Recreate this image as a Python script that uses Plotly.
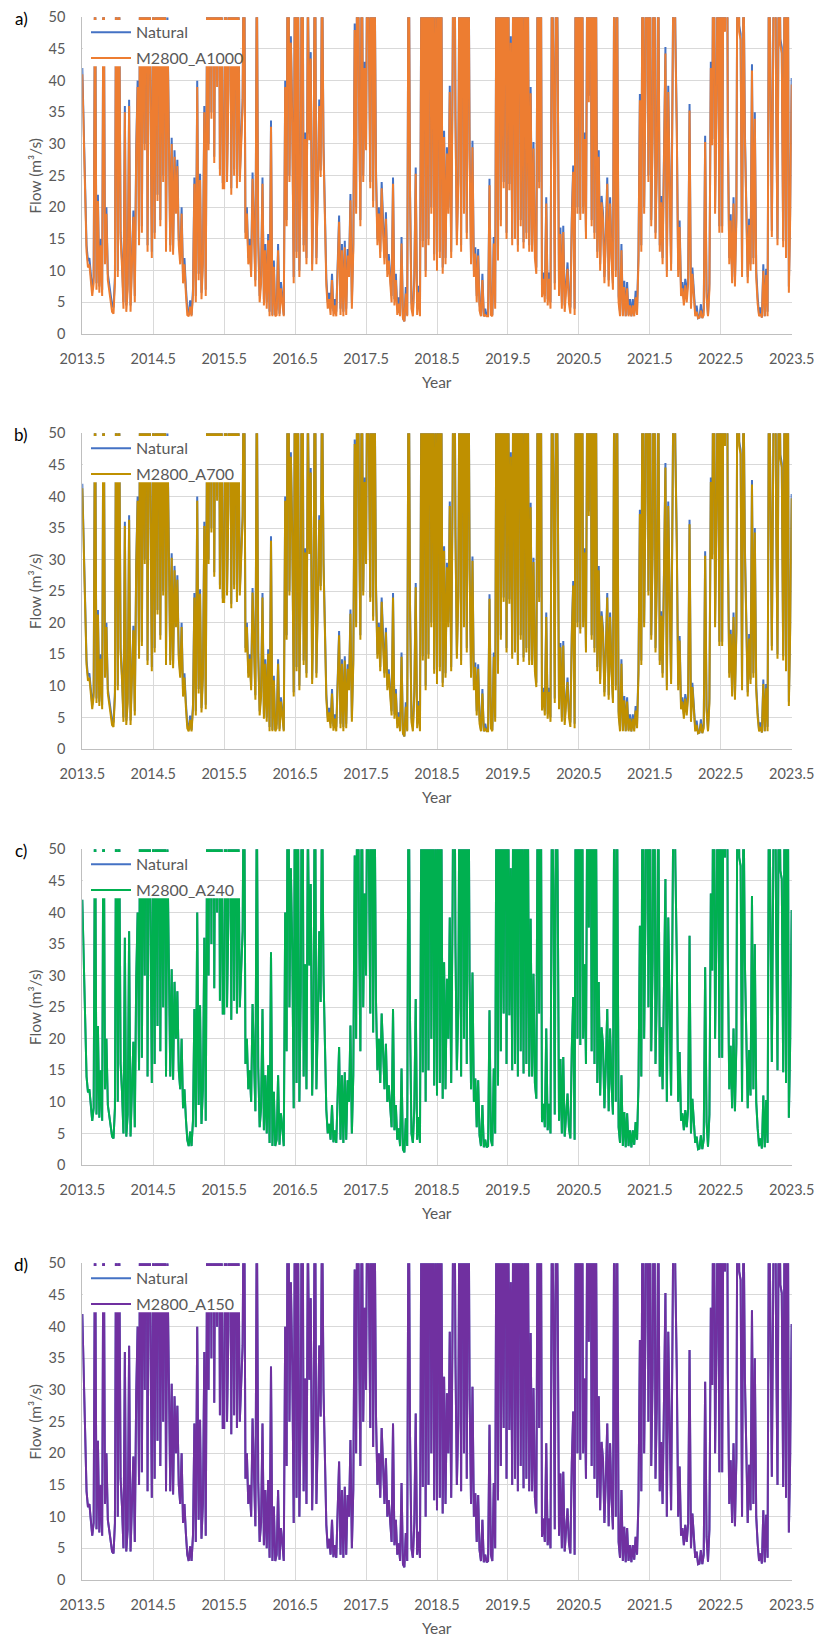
import plotly.graph_objects as go

# ---------------- data ----------------
start_year = 2013.5
step_years = 0.02
years = [round(start_year + step_years * i, 2) for i in range(501)]

natural = [
    42, 31, 20, 14, 11.5, 12, 9.5, 7, 9, 60,
    8, 22, 7.5, 15, 7, 65, 12, 20, 9.5, 7.5,
    5.5, 4.5, 4.2, 9, 70, 10, 55, 16, 11.5, 5,
    36, 4.5, 8, 37, 4.5, 12, 19.5, 6, 29.5, 40,
    15, 80, 17, 65, 30, 90, 14, 70, 40, 13,
    55, 16, 70, 22, 85, 18, 60, 25, 75, 14,
    50, 35, 14, 31, 13.5, 29, 20, 27.5, 15, 12,
    20, 9, 12, 7.4, 4, 3, 5.3, 3, 7, 24.7,
    6, 40, 9.5, 25.3, 6.5, 12, 36, 7, 55, 30,
    80, 35, 95, 28, 70, 40, 85, 26, 60, 24,
    24, 80, 25, 39.5, 90, 23, 65, 26, 75, 24,
    55, 25, 32.5, 37, 70, 16, 20, 12, 15, 10,
    25.5, 18, 8.5, 60, 15.5, 6, 9, 24.7, 5.5, 14.2,
    5, 15.8, 3.5, 33.7, 3, 11.6, 3, 4, 14.2, 3.2,
    8.2, 5.8, 3, 40, 18, 85, 25, 47, 34, 9,
    75, 13, 60, 10, 27.4, 85, 14, 31.8, 12, 55,
    31.6, 44.5, 11, 24.2, 70, 12, 23, 37, 25.8, 60,
    30, 16.3, 8.7, 5, 6.5, 4, 9.5, 3.6, 5.5, 3.5,
    10, 18.7, 4, 14.2, 3.5, 14.7, 4, 13.4, 10, 22.1,
    5, 14.2, 49, 20, 80, 38.4, 18, 65, 25, 43,
    30, 70, 44.2, 24, 90, 21, 60, 26, 15, 20,
    13, 24, 16.8, 12, 19.2, 10, 12.6, 9, 6, 24.7,
    5.5, 9.5, 4, 5.8, 3, 15.3, 2.5, 2, 7.4, 3,
    70, 22.6, 5, 3.5, 9, 26.3, 4, 7.6, 3.5, 60,
    14.7, 85, 10, 65, 15, 95, 20, 75, 12.6, 55,
    11, 80, 13, 60, 10.5, 32.1, 12, 29.5, 20, 39.2,
    13, 41.6, 85, 35, 15, 24.7, 70, 14, 90, 20,
    60, 16, 75, 29, 12, 30.5, 10, 13.7, 6, 13.4,
    4.7, 3, 9.5, 2.8, 4, 2.8, 3, 24.5, 4, 3,
    15.3, 5, 70, 12.6, 85, 18, 60, 24, 90, 16,
    70, 23.7, 47, 15, 80, 16, 65, 14, 95, 18,
    55, 14.5, 75, 16, 60, 14, 39, 14, 30.3, 13,
    10.5, 65, 24, 80, 6.8, 9.7, 6, 21.6, 5.5, 9.7,
    5, 60, 43.7, 8, 70, 46.6, 7, 16.8, 5, 17.1,
    4.5, 7.9, 11.3, 5.8, 4.2, 18.4, 26.6, 4, 85, 20,
    75, 19, 90, 20, 31.8, 16, 65, 37.6, 80, 18,
    70, 16, 60, 13, 29, 11, 21.8, 19, 9, 16,
    24.7, 8.5, 21.6, 12.9, 8, 65, 10, 55, 6, 3.5,
    14.2, 3, 8.4, 2.8, 8.2, 3, 5.5, 2.8, 5.5, 3.2,
    6.8, 4, 12.6, 37.9, 14, 75, 20, 41, 90, 25,
    70, 18, 32.4, 85, 16, 27.9, 60, 14, 21.8, 12,
    27.1, 45.3, 10, 39.2, 24.2, 11, 39.2, 70, 47.6, 33.2,
    10, 17.9, 7, 8.2, 5.5, 8.7, 6, 8.9, 36.3, 5,
    10.5, 7.1, 3.5, 4.5, 2.5, 2.6, 4.7, 2.5, 4, 31.3,
    6.8, 2.9, 8, 43, 30.8, 80, 20, 37.9, 65, 17,
    85, 17, 70, 48.7, 95, 32.6, 12, 18.9, 9, 21.6,
    8.5, 19.2, 80, 48.7, 47.4, 10, 60, 32.1, 20.5, 9,
    18.2, 11, 42.6, 12, 35, 10, 5.8, 3, 4.2, 2.6,
    11, 2.8, 10.3, 3.5, 65, 32.9, 16.3, 47.1, 85, 38.4,
    15, 70, 46.6, 45.3, 14.7, 60, 13, 90, 7.5, 20,
    40.4,
]

m2800_a1000 = [
    41, 30, 19, 13, 10.5, 11, 8.5, 6, 8, 59,
    7, 21, 6.5, 14, 6, 64, 11, 19, 8.5, 6.5,
    4.5, 3.5, 3.2, 8, 69, 9, 54, 15, 10.5, 4,
    35, 3.5, 7, 36, 3.5, 11, 18.5, 5, 28.5, 39,
    14, 79, 16, 64, 29, 89, 13, 69, 39, 12,
    54, 15, 69, 21, 84, 17, 59, 24, 74, 13,
    49, 34, 13, 30, 12.5, 28, 19, 26.5, 14, 11,
    19, 8, 11, 6.4, 3, 2.8, 4.3, 2.8, 6, 23.7,
    5, 39, 8.5, 24.3, 5.5, 11, 35, 6, 54, 29,
    79, 34, 94, 27, 69, 39, 84, 25, 59, 23,
    23, 79, 24, 38.5, 89, 22, 64, 25, 74, 23,
    54, 24, 31.5, 36, 69, 15, 19, 11, 14, 9,
    24.5, 17, 7.5, 59, 14.5, 5, 8, 23.7, 4.5, 13.2,
    4, 14.8, 2.8, 32.7, 2.8, 10.6, 2.8, 3, 13.2, 2.8,
    7.2, 4.8, 2.8, 39, 17, 84, 24, 46, 33, 8,
    74, 12, 59, 9, 26.4, 84, 13, 30.8, 11, 54,
    30.6, 43.5, 10, 23.2, 69, 11, 22, 36, 24.8, 59,
    29, 15.3, 7.7, 4, 5.5, 3, 8.5, 2.8, 4.5, 2.8,
    9, 17.7, 3, 13.2, 2.8, 13.7, 3, 12.4, 9, 21.1,
    4, 13.2, 48, 19, 79, 37.4, 17, 64, 24, 42,
    29, 69, 43.2, 23, 89, 20, 59, 25, 14, 19,
    12, 23, 15.8, 11, 18.2, 9, 11.6, 8, 5, 23.7,
    4.5, 8.5, 3, 4.8, 2.8, 14.3, 2.5, 2, 6.4, 2.8,
    69, 21.6, 4, 2.8, 8, 25.3, 3, 6.6, 2.8, 59,
    13.7, 84, 9, 64, 14, 94, 19, 74, 11.6, 54,
    10, 79, 12, 59, 9.5, 31.1, 11, 28.5, 19, 38.2,
    12, 40.6, 84, 34, 14, 23.7, 69, 13, 89, 19,
    59, 15, 74, 28, 11, 29.5, 9, 12.7, 5, 12.4,
    3.7, 2.8, 8.5, 2.8, 3, 2.8, 2.8, 23.5, 3, 2.8,
    14.3, 4, 69, 11.6, 84, 17, 59, 23, 89, 15,
    69, 22.7, 46, 14, 79, 15, 64, 13, 94, 17,
    54, 13.5, 74, 15, 59, 13, 38, 13, 29.3, 12,
    9.5, 64, 23, 79, 5.8, 8.7, 5, 20.6, 4.5, 8.7,
    4, 59, 42.7, 7, 69, 45.6, 6, 15.8, 4, 16.1,
    3.5, 6.9, 10.3, 4.8, 3.2, 17.4, 25.6, 3, 84, 19,
    74, 18, 89, 19, 30.8, 15, 64, 36.6, 79, 17,
    69, 15, 59, 12, 28, 10, 20.8, 18, 8, 15,
    23.7, 7.5, 20.6, 11.9, 7, 64, 9, 54, 5, 2.8,
    13.2, 2.8, 7.4, 2.8, 7.2, 2.8, 4.5, 2.8, 4.5, 2.8,
    5.8, 3, 11.6, 36.9, 13, 74, 19, 40, 89, 24,
    69, 17, 31.4, 84, 15, 26.9, 59, 13, 20.8, 11,
    26.1, 44.3, 9, 38.2, 23.2, 10, 38.2, 69, 46.6, 32.2,
    9, 16.9, 6, 7.2, 4.5, 7.7, 5, 7.9, 35.3, 4,
    9.5, 6.1, 2.8, 3.5, 2.5, 2.6, 3.7, 2.5, 3, 30.3,
    5.8, 2.8, 7, 42, 29.8, 79, 19, 36.9, 64, 16,
    84, 16, 69, 47.7, 94, 31.6, 11, 17.9, 8, 20.6,
    7.5, 18.2, 79, 47.7, 46.4, 9, 59, 31.1, 19.5, 8,
    17.2, 10, 41.6, 11, 34, 9, 4.8, 2.8, 3.2, 2.6,
    10, 2.8, 9.3, 2.8, 64, 31.9, 15.3, 46.1, 84, 37.4,
    14, 69, 45.6, 44.3, 13.7, 59, 12, 89, 6.5, 19,
    39.4,
]

m2800_a700 = [
    41.3, 30.3, 19.3, 13.3, 10.8, 11.3, 8.8, 6.3, 8.3, 59.3,
    7.3, 21.3, 6.8, 14.3, 6.3, 64.3, 11.3, 19.3, 8.8, 6.8,
    4.8, 3.8, 3.5, 8.3, 69.3, 9.3, 54.3, 15.3, 10.8, 4.3,
    35.3, 3.8, 7.3, 36.3, 3.8, 11.3, 18.8, 5.3, 28.8, 39.3,
    14.3, 79.3, 16.3, 64.3, 29.3, 89.3, 13.3, 69.3, 39.3, 12.3,
    54.3, 15.3, 69.3, 21.3, 84.3, 17.3, 59.3, 24.3, 74.3, 13.3,
    49.3, 34.3, 13.3, 30.3, 12.8, 28.3, 19.3, 26.8, 14.3, 11.3,
    19.3, 8.3, 11.3, 6.7, 3.3, 2.8, 4.6, 2.8, 6.3, 24,
    5.3, 39.3, 8.8, 24.6, 5.8, 11.3, 35.3, 6.3, 54.3, 29.3,
    79.3, 34.3, 94.3, 27.3, 69.3, 39.3, 84.3, 25.3, 59.3, 23.3,
    23.3, 79.3, 24.3, 38.8, 89.3, 22.3, 64.3, 25.3, 74.3, 23.3,
    54.3, 24.3, 31.8, 36.3, 69.3, 15.3, 19.3, 11.3, 14.3, 9.3,
    24.8, 17.3, 7.8, 59.3, 14.8, 5.3, 8.3, 24, 4.8, 13.5,
    4.3, 15.1, 2.8, 33, 2.8, 10.9, 2.8, 3.3, 13.5, 2.8,
    7.5, 5.1, 2.8, 39.3, 17.3, 84.3, 24.3, 46.3, 33.3, 8.3,
    74.3, 12.3, 59.3, 9.3, 26.7, 84.3, 13.3, 31.1, 11.3, 54.3,
    30.9, 43.8, 10.3, 23.5, 69.3, 11.3, 22.3, 36.3, 25.1, 59.3,
    29.3, 15.6, 8, 4.3, 5.8, 3.3, 8.8, 2.9, 4.8, 2.8,
    9.3, 18, 3.3, 13.5, 2.8, 14, 3.3, 12.7, 9.3, 21.4,
    4.3, 13.5, 48.3, 19.3, 79.3, 37.7, 17.3, 64.3, 24.3, 42.3,
    29.3, 69.3, 43.5, 23.3, 89.3, 20.3, 59.3, 25.3, 14.3, 19.3,
    12.3, 23.3, 16.1, 11.3, 18.5, 9.3, 11.9, 8.3, 5.3, 24,
    4.8, 8.8, 3.3, 5.1, 2.8, 14.6, 2.5, 2, 6.7, 2.8,
    69.3, 21.9, 4.3, 2.8, 8.3, 25.6, 3.3, 6.9, 2.8, 59.3,
    14, 84.3, 9.3, 64.3, 14.3, 94.3, 19.3, 74.3, 11.9, 54.3,
    10.3, 79.3, 12.3, 59.3, 9.8, 31.4, 11.3, 28.8, 19.3, 38.5,
    12.3, 40.9, 84.3, 34.3, 14.3, 24, 69.3, 13.3, 89.3, 19.3,
    59.3, 15.3, 74.3, 28.3, 11.3, 29.8, 9.3, 13, 5.3, 12.7,
    4, 2.8, 8.8, 2.8, 3.3, 2.8, 2.8, 23.8, 3.3, 2.8,
    14.6, 4.3, 69.3, 11.9, 84.3, 17.3, 59.3, 23.3, 89.3, 15.3,
    69.3, 23, 46.3, 14.3, 79.3, 15.3, 64.3, 13.3, 94.3, 17.3,
    54.3, 13.8, 74.3, 15.3, 59.3, 13.3, 38.3, 13.3, 29.6, 12.3,
    9.8, 64.3, 23.3, 79.3, 6.1, 9, 5.3, 20.9, 4.8, 9,
    4.3, 59.3, 43, 7.3, 69.3, 45.9, 6.3, 16.1, 4.3, 16.4,
    3.8, 7.2, 10.6, 5.1, 3.5, 17.7, 25.9, 3.3, 84.3, 19.3,
    74.3, 18.3, 89.3, 19.3, 31.1, 15.3, 64.3, 36.9, 79.3, 17.3,
    69.3, 15.3, 59.3, 12.3, 28.3, 10.3, 21.1, 18.3, 8.3, 15.3,
    24, 7.8, 20.9, 12.2, 7.3, 64.3, 9.3, 54.3, 5.3, 2.8,
    13.5, 2.8, 7.7, 2.8, 7.5, 2.8, 4.8, 2.8, 4.8, 2.8,
    6.1, 3.3, 11.9, 37.2, 13.3, 74.3, 19.3, 40.3, 89.3, 24.3,
    69.3, 17.3, 31.7, 84.3, 15.3, 27.2, 59.3, 13.3, 21.1, 11.3,
    26.4, 44.6, 9.3, 38.5, 23.5, 10.3, 38.5, 69.3, 46.9, 32.5,
    9.3, 17.2, 6.3, 7.5, 4.8, 8, 5.3, 8.2, 35.6, 4.3,
    9.8, 6.4, 2.8, 3.8, 2.5, 2.6, 4, 2.5, 3.3, 30.6,
    6.1, 2.8, 7.3, 42.3, 30.1, 79.3, 19.3, 37.2, 64.3, 16.3,
    84.3, 16.3, 69.3, 48, 94.3, 31.9, 11.3, 18.2, 8.3, 20.9,
    7.8, 18.5, 79.3, 48, 46.7, 9.3, 59.3, 31.4, 19.8, 8.3,
    17.5, 10.3, 41.9, 11.3, 34.3, 9.3, 5.1, 2.8, 3.5, 2.6,
    10.3, 2.8, 9.6, 2.8, 64.3, 32.2, 15.6, 46.4, 84.3, 37.7,
    14.3, 69.3, 45.9, 44.6, 14, 59.3, 12.3, 89.3, 6.8, 19.3,
    39.7,
]

# In panels c) and d) the scenario lines cover the Natural line completely;
m2800_a240 = list(natural)
m2800_a150 = list(natural)

panel_labels = ["a)", "b)", "c)", "d)"]
scenario_names = ["M2800_A1000", "M2800_A700", "M2800_A240", "M2800_A150"]
scenario_series = [m2800_a1000, m2800_a700, m2800_a240, m2800_a150]
scenario_colors = ["#ED7D31", "#BF9000", "#00B050", "#7030A0"]
natural_color = "#4472C4"

x_ticks = [2013.5 + k for k in range(11)]
y_ticks = list(range(0, 51, 5))

# ---------------- layout geometry (pixels of the 819x1639 page) ----------------
W, H = 819, 1639
plot_left, plot_right = 82.3, 791.7
panel_px = [(17.3, 334.0), (433.3, 749.0), (849.3, 1165.0), (1263.3, 1580.0)]

def px_x(v):
    return v / W

def px_y(v):
    return 1 - v / H

FONT = "Lato"
GREY = "#595959"
GRID = "#d9d9d9"

fig = go.Figure()
annotations = []
shapes = []
layout_axes = {}

for k in range(4):
    top, bottom = panel_px[k]
    xa = "x" if k == 0 else f"x{k+1}"
    ya = "y" if k == 0 else f"y{k+1}"
    lg = "legend" if k == 0 else f"legend{k+1}"

    fig.add_trace(go.Scatter(
        x=years, y=natural, mode="lines", name="Natural",
        line=dict(color=natural_color, width=2),
        legendgroup=f"nat{k}",
        xaxis=xa, yaxis=ya, legend=lg, hoverinfo="skip"))
    fig.add_trace(go.Scatter(
        x=years, y=scenario_series[k], mode="lines", name=scenario_names[k],
        line=dict(color=scenario_colors[k], width=2),
        legendgroup=f"scn{k}",
        xaxis=xa, yaxis=ya, legend=lg, hoverinfo="skip"))

    xkey = "xaxis" if k == 0 else f"xaxis{k+1}"
    ykey = "yaxis" if k == 0 else f"yaxis{k+1}"
    layout_axes[xkey] = dict(
        domain=[px_x(plot_left), px_x(plot_right)],
        anchor=ya, range=[x_ticks[0], x_ticks[-1]],
        tickmode="array", tickvals=x_ticks,
        ticktext=[f"{t:.1f}" for t in x_ticks],
        showgrid=True, gridcolor=GRID, gridwidth=1,
        showline=True, linecolor="#bfbfbf", linewidth=1,
        zeroline=False, ticks="", ticklabelstandoff=12,
        automargin=False,
        tickfont=dict(family=FONT, size=14.5, color=GREY),
    )
    layout_axes[ykey] = dict(
        domain=[px_y(bottom), px_y(top)],
        anchor=xa, range=[0, 50],
        tickmode="array", tickvals=y_ticks,
        showgrid=True, gridcolor=GRID, gridwidth=1,
        showline=True, linecolor="#bfbfbf", linewidth=1,
        zeroline=False, ticks="", ticklabelstandoff=13,
        automargin=False,
        tickfont=dict(family=FONT, size=14.5, color=GREY),
    )
    layout_axes[lg] = dict(
        x=px_x(86), y=px_y(top - 2), xanchor="left", yanchor="top",
        bgcolor="rgba(0,0,0,0)", borderwidth=0,
        font=dict(family=FONT, size=16, color=GREY),
        itemwidth=40,
        traceorder="grouped", tracegroupgap=2,
    )
    # white legend panel (as in the reference), drawn over the data
    shapes.append(dict(
        type="rect", xref="paper", yref="paper", layer="above",
        x0=px_x(83), x1=px_x(240), y0=px_y(top + 49), y1=px_y(top + 2.7),
        fillcolor="white", line=dict(width=0)))

    annotations.append(dict(
        text=panel_labels[k], x=px_x(21), y=px_y(top + 1),
        xref="paper", yref="paper", showarrow=False,
        font=dict(family=FONT, size=17, color="#000000"),
        xanchor="center", yanchor="middle"))
    annotations.append(dict(
        text="Flow (m³/s)", x=px_x(35), y=px_y((top + bottom) / 2),
        xref="paper", yref="paper", showarrow=False, textangle=-90,
        font=dict(family=FONT, size=15.5, color=GREY),
        xanchor="center", yanchor="middle"))
    annotations.append(dict(
        text="Year", x=px_x((plot_left + plot_right) / 2), y=px_y(bottom + 48),
        xref="paper", yref="paper", showarrow=False,
        font=dict(family=FONT, size=15.5, color=GREY),
        xanchor="center", yanchor="middle"))

fig.update_layout(
    width=W, height=H,
    margin=dict(l=0, r=0, t=0, b=0, autoexpand=False),
    paper_bgcolor="white", plot_bgcolor="white",
    showlegend=True,
    annotations=annotations,
    shapes=shapes,
    **layout_axes,
)

fig.write_html("out.html", config={"displayModeBar": False},
               post_script="document.body.style.margin='0px';")
